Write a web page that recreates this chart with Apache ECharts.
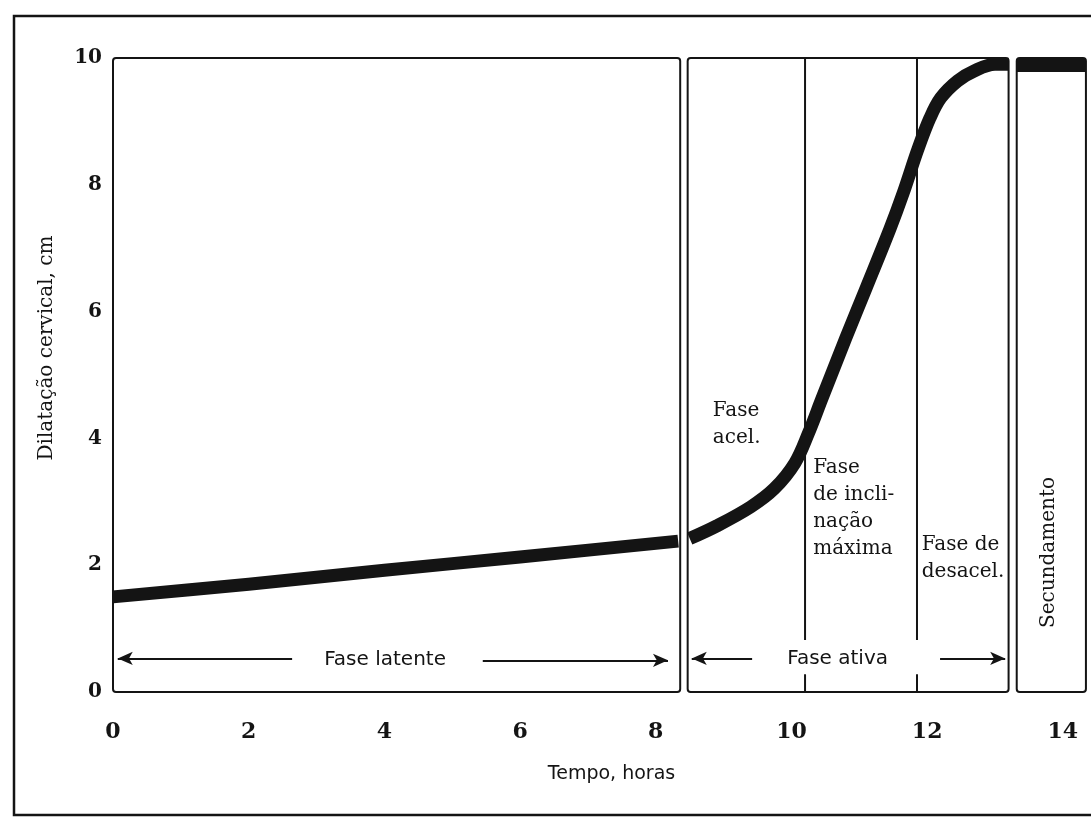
<!DOCTYPE html>
<html><head><meta charset="utf-8">
<script src="https://cdn.jsdelivr.net/npm/echarts@6/dist/echarts.min.js"></script>
<style>html,body{margin:0;padding:0;background:#fff}#chart{width:1091px;height:828px}</style>
</head><body><div id="chart"></div>
<script>
// ---- data ----
const xTicks = [0, 2, 4, 6, 8, 10, 12, 14];
const yTicks = [0, 2, 4, 6, 8, 10];
const latentHours = [0, 2, 4, 6, 8.33];
const latentDilation = [1.5, 1.7, 1.92, 2.13, 2.38];
const activeHours = [8.5, 8.9, 9.4, 9.75, 10.05, 10.25, 10.45, 10.8, 11.1, 11.45, 11.65, 11.86, 12.04, 12.2, 12.45, 12.7, 13.0, 13.2];
const activeDilation = [2.42, 2.62, 2.92, 3.21, 3.61, 4.08, 4.63, 5.58, 6.37, 7.3, 7.88, 8.55, 9.05, 9.37, 9.64, 9.8, 9.9, 9.9];
const secundHours = [13.32, 14.34];
const secundDilation = [9.88, 9.88];
const panelStart = [0, 8.47, 13.32];
const panelEnd = [8.36, 13.2, 14.34];
const dividerHours = [10.2, 11.85];
const arrowFrom = [2.64, 5.45, 9.42, 12.19];
const arrowTo = [0.07, 8.18, 8.53, 13.15];
const arrowLevel = [0.53, 0.5, 0.53, 0.53];
const noteTexts = ['Fase\nacel.', 'Fase\nde incli-\nnação\nmáxima', 'Fase de\ndesacel.', 'Secundamento', 'Fase latente', 'Fase ativa'];
const noteHours = [8.84, 10.32, 11.92, 13.79, 4.01, 10.68];
const noteDilation = [4.65, 3.75, 2.53, 2.2, 0.51, 0.53];

// ---- styles ----
const INK = '#141414';
const SERIF = '"DejaVu Serif", serif';
const SANS = '"DejaVu Sans", sans-serif';
const noteStyles = [
  {font: SERIF, align: 'left', va: 'top', rot: 0},
  {font: SERIF, align: 'left', va: 'top', rot: 0},
  {font: SERIF, align: 'left', va: 'top', rot: 0},
  {font: SERIF, align: 'center', va: 'middle', rot: Math.PI / 2},
  {font: SANS, align: 'center', va: 'middle', rot: 0},
  {font: SANS, align: 'center', va: 'middle', rot: 0}
];

const chart = echarts.init(document.getElementById('chart'), null, {renderer: 'canvas'});

const curveStyle = {color: INK, width: 13, cap: 'butt', join: 'round'};
const toPairs = (xs, ys) => xs.map((x, i) => [x, ys[i]]);

const option = {
  animation: false,
  backgroundColor: '#ffffff',
  grid: {left: 113, right: 1, top: 58, bottom: 136},
  xAxis: {
    type: 'value', min: 0, max: 14.4, interval: 2,
    axisLine: {show: false}, axisTick: {show: false}, splitLine: {show: false},
    axisLabel: {customValues: xTicks, margin: 29, color: INK, fontFamily: SERIF, fontWeight: 'bold', fontSize: 22},
    name: 'Tempo, horas', nameLocation: 'middle', nameGap: 73,
    nameTextStyle: {fontFamily: SANS, fontSize: 19, color: INK, padding: [0, 0, 0, 20]}
  },
  yAxis: {
    type: 'value', min: 0, max: 10, interval: 2,
    axisLine: {show: false}, axisTick: {show: false}, splitLine: {show: false},
    axisLabel: {customValues: yTicks, margin: 11, color: INK, fontFamily: SERIF, fontWeight: 'bold', fontSize: 20},
    name: 'Dilatação cervical, cm', nameLocation: 'middle', nameGap: 56,
    nameTextStyle: {fontFamily: SERIF, fontSize: 20, color: INK, padding: [0, 0, 0, 54]}
  },
  graphic: [{
    type: 'rect', silent: true, z: -10,
    shape: {x: 14, y: 16, width: 1100, height: 799},
    style: {fill: 'none', stroke: INK, lineWidth: 2.5}
  }],
  series: [
    { // phase panels
      type: 'custom', silent: true, z: 1,
      data: toPairs(panelStart, panelEnd),
      renderItem: (params, api) => {
        const a = api.coord([api.value(0), 10]);
        const b = api.coord([api.value(1), 0]);
        return {type: 'rect', shape: {x: a[0], y: a[1], width: b[0] - a[0], height: b[1] - a[1], r: 3},
          style: {fill: 'none', stroke: INK, lineWidth: 2}};
      }
    },
    { // sub-phase dividers inside the active phase
      type: 'custom', silent: true, z: 1,
      data: dividerHours.map(h => [h]),
      renderItem: (params, api) => {
        const h = api.value(0);
        const top = api.coord([h, 10]), low = api.coord([h, 0.82]);
        const t0 = api.coord([h, 0]), t1 = api.coord([h, 0.28]);
        return {type: 'group', children: [
          {type: 'line', shape: {x1: top[0], y1: top[1], x2: low[0], y2: low[1]}, style: {stroke: INK, lineWidth: 2}},
          {type: 'line', shape: {x1: t0[0], y1: t0[1], x2: t1[0], y2: t1[1]}, style: {stroke: INK, lineWidth: 2}}
        ]};
      }
    },
    {
      name: 'Fase latente', type: 'line', data: toPairs(latentHours, latentDilation),
      smooth: 0.3, symbol: 'none', clip: false, z: 3, lineStyle: curveStyle
    },
    {
      name: 'Fase ativa', type: 'line', data: toPairs(activeHours, activeDilation),
      smooth: 0.35, symbol: 'none', clip: false, z: 3, lineStyle: curveStyle
    },
    {
      name: 'Secundamento', type: 'line', data: toPairs(secundHours, secundDilation),
      symbol: 'none', clip: false, z: 3, lineStyle: curveStyle
    },
    { // arrows
      type: 'line', data: [], silent: true,
      markLine: {
        silent: true, animation: false,
        symbol: ['none', 'arrow'], symbolSize: [10, 15],
        label: {show: false},
        lineStyle: {color: INK, width: 2, type: 'solid'},
        data: arrowFrom.map((f, i) => [{coord: [f, arrowLevel[i]]}, {coord: [arrowTo[i], arrowLevel[i]]}])
      }
    },
    { // annotations
      type: 'custom', silent: true, z: 5,
      data: toPairs(noteHours, noteDilation),
      renderItem: (params, api) => {
        const p = api.coord([api.value(0), api.value(1)]);
        const s = noteStyles[params.dataIndex];
        return {type: 'text', x: p[0], y: p[1], rotation: s.rot,
          style: {text: noteTexts[params.dataIndex], fontFamily: s.font, fontSize: 20, lineHeight: 27,
            fill: INK, align: s.align, verticalAlign: s.va}};
      }
    }
  ]
};
chart.setOption(option);
</script></body></html>
